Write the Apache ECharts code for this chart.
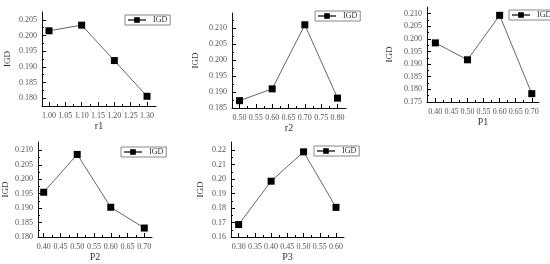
<!DOCTYPE html>
<html>
<head>
<meta charset="utf-8">
<script src="https://cdn.jsdelivr.net/npm/echarts@6/dist/echarts.min.js"></script>
<style>html,body{margin:0;padding:0;background:#fff}#c{width:550px;height:264px}</style>
</head>
<body>
<div id="c"></div>
<script>
// ---- data ----
const xNames = ['r1', 'r2', 'P1', 'P2', 'P3'];
const seriesName = 'IGD';

const x1 = [1.00, 1.10, 1.20, 1.30];
const y1 = [0.2015, 0.2033, 0.1920, 0.1806];
const x2 = [0.50, 0.60, 0.70, 0.80];
const y2 = [0.1873, 0.1910, 0.2111, 0.1881];
const x3 = [0.40, 0.50, 0.60, 0.70];
const y3 = [0.1984, 0.1917, 0.2093, 0.1783];
const x4 = [0.40, 0.50, 0.60, 0.70];
const y4 = [0.1955, 0.2086, 0.1903, 0.1831];
const x5 = [0.30, 0.40, 0.50, 0.60];
const y5 = [0.1686, 0.1986, 0.2189, 0.1805];

// tick labels
const xTicks1 = [1.00, 1.05, 1.10, 1.15, 1.20, 1.25, 1.30];
const yTicks1 = [0.180, 0.185, 0.190, 0.195, 0.200, 0.205];
const xTicks2 = [0.50, 0.55, 0.60, 0.65, 0.70, 0.75, 0.80];
const yTicks2 = [0.185, 0.190, 0.195, 0.200, 0.205, 0.210, 0.215];
const xTicks3 = [0.40, 0.45, 0.50, 0.55, 0.60, 0.65, 0.70];
const yTicks3 = [0.175, 0.180, 0.185, 0.190, 0.195, 0.200, 0.205, 0.210];
const xTicks4 = [0.40, 0.45, 0.50, 0.55, 0.60, 0.65, 0.70];
const yTicks4 = [0.180, 0.185, 0.190, 0.195, 0.200, 0.205, 0.210];
const xTicks5 = [0.30, 0.35, 0.40, 0.45, 0.50, 0.55, 0.60];
const yTicks5 = [0.16, 0.17, 0.18, 0.19, 0.20, 0.21, 0.22];

// ---- layout ----
const panels = [
  {xs: x1, ys: y1, xt: xTicks1, yt: yTicks1, xd: 2, yd: 3, grid: {left: 42, top: 12, width: 114, height: 94}, xr: [0.9786, 1.3275], yr: [0.1775, 0.2075], legend: {left: 125, top: 15}, yGap: 30, xGap: 15},
  {xs: x2, ys: y2, xt: xTicks2, yt: yTicks2, xd: 2, yd: 3, grid: {left: 232, top: 13, width: 114, height: 95}, xr: [0.477, 0.826], yr: [0.185, 0.2148], legend: {left: 315, top: 11}, yGap: 32, xGap: 12},
  {xs: x3, ys: y3, xt: xTicks3, yt: yTicks3, xd: 2, yd: 3, grid: {left: 427, top: 7, width: 112, height: 95}, xr: [0.374, 0.7225], yr: [0.175, 0.2126], legend: {left: 509, top: 10}, yGap: 33, xGap: 15},
  {xs: x4, ys: y4, xt: xTicks4, yt: yTicks4, xd: 2, yd: 3, grid: {left: 38, top: 142, width: 114, height: 95}, xr: [0.383, 0.723], yr: [0.180, 0.2129], legend: {left: 121, top: 147}, yGap: 28, xGap: 11},
  {xs: x5, ys: y5, xt: xTicks5, yt: yTicks5, xd: 2, yd: 2, grid: {left: 231, top: 142, width: 113, height: 95}, xr: [0.2764, 0.6246], yr: [0.16, 0.2257], legend: {left: 314, top: 146}, yGap: 26, xGap: 11}
];

const FONT = '"Liberation Serif", "DejaVu Serif", serif';
const mids = arr => arr.slice(1).map((v, i) => (v + arr[i]) / 2);

const grid = [], xAxis = [], yAxis = [], series = [], legend = [];
panels.forEach((p, i) => {
  grid.push(Object.assign({containLabel: false}, p.grid));
  xAxis.push({
    type: 'value', gridIndex: i, min: p.xr[0], max: p.xr[1], position: 'bottom',
    name: xNames[i], nameLocation: 'middle', nameGap: p.xGap,
    nameTextStyle: {fontFamily: FONT, fontSize: 10, color: '#333'},
    axisLine: {show: true, onZero: false, lineStyle: {color: '#111', width: 1}},
    axisTick: {show: true, inside: true, length: 4, customValues: p.xt, lineStyle: {color: '#000', width: 1}},
    axisLabel: {show: true, customValues: p.xt, fontFamily: FONT, fontSize: 8, color: '#555', margin: 6,
      formatter: v => v.toFixed(p.xd)},
    splitLine: {show: false}
  });
  yAxis.push({
    type: 'value', gridIndex: i, min: p.yr[0], max: p.yr[1], position: 'left',
    name: seriesName, nameLocation: 'middle', nameGap: p.yGap, nameRotate: 90,
    nameTextStyle: {fontFamily: FONT, fontSize: 9, color: '#333'},
    axisLine: {show: true, onZero: false, lineStyle: {color: '#111', width: 1}},
    axisTick: {show: true, inside: true, length: 4, customValues: p.yt, lineStyle: {color: '#000', width: 1}},
    axisLabel: {show: true, customValues: p.yt, fontFamily: FONT, fontSize: 8, color: '#555', margin: 5,
      formatter: v => v.toFixed(p.yd)},
    splitLine: {show: false}
  });
  series.push({
    name: seriesName, type: 'line', xAxisIndex: i, yAxisIndex: i,
    data: p.xs.map((x, k) => [x, p.ys[k]]),
    symbol: 'rect', symbolSize: 7,
    itemStyle: {color: '#000'},
    lineStyle: {color: '#666', width: 1},
    emphasis: {disabled: true}, animation: false
  });
  legend.push({
    data: [seriesName], left: p.legend.left, top: p.legend.top,
    orient: 'horizontal', padding: [1, 3, 1, 2], borderColor: '#888', borderWidth: 1,
    itemWidth: 18, itemHeight: 7, itemGap: 2,
    textStyle: {fontFamily: FONT, fontSize: 8, color: '#333', padding: [0, 0, 0, 2]},
    selectedMode: false
  });
});
// minor tick overlay axes (same side as the main axes)
panels.forEach((p, i) => {
  xAxis.push({
    type: 'value', gridIndex: i, min: p.xr[0], max: p.xr[1], position: 'bottom', offset: 0,
    axisLine: {show: false, onZero: false}, axisLabel: {show: false}, splitLine: {show: false},
    axisTick: {show: true, inside: true, length: 2, customValues: mids(p.xt), lineStyle: {color: '#000', width: 1}}
  });
  yAxis.push({
    type: 'value', gridIndex: i, min: p.yr[0], max: p.yr[1], position: 'left', offset: 0,
    axisLine: {show: false, onZero: false}, axisLabel: {show: false}, splitLine: {show: false},
    axisTick: {show: true, inside: true, length: 2, customValues: mids(p.yt), lineStyle: {color: '#000', width: 1}}
  });
});

const chart = echarts.init(document.getElementById('c'), null, {renderer: 'canvas'});
chart.setOption({animation: false, grid, xAxis, yAxis, series, legend});
</script>
</body>
</html>
